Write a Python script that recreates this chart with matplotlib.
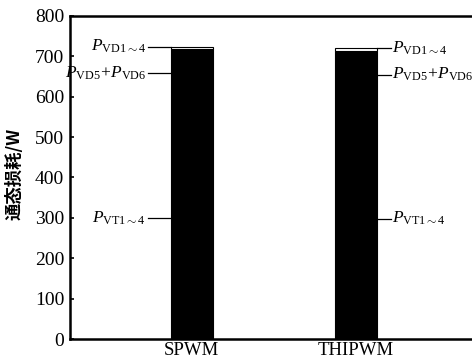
import numpy as np
import matplotlib.pyplot as plt

plt.rcParams['font.family'] = ['Liberation Serif', 'DejaVu Serif']
plt.rcParams['mathtext.fontset'] = 'custom'
plt.rcParams['mathtext.rm'] = 'Liberation Serif'
plt.rcParams['mathtext.it'] = 'Liberation Serif:italic'

# on-state losses (W) for each modulation scheme, stacked bottom to top
schemes = ['SPWM', 'THIPWM']
p_vt14 = [600, 596]
p_vd56 = [117, 117]
p_vd14 = [7, 7]
labels = [r'$P_{\mathrm{VT1\sim4}}$',
          r'$P_{\mathrm{VD5}}\!+\!P_{\mathrm{VD6}}$',
          r'$P_{\mathrm{VD1\sim4}}$']

fig = plt.figure(figsize=(4.72, 3.6), dpi=100)
ax = fig.add_axes([0.148, 0.058, 0.852, 0.898])

x = np.arange(len(schemes))
w = 0.255
b1 = np.array(p_vt14)
b2 = b1 + np.array(p_vd56)
ax.bar(x, p_vt14, w, color='black', edgecolor='black', lw=0.8)
ax.bar(x, p_vd56, w, bottom=b1, color='black', edgecolor='black', lw=0.8)
ax.bar(x, p_vd14, w, bottom=b2, color='white', edgecolor='black', lw=0.8)

# leader lines + labels, left side for the first bar, right side for the second
for i in range(len(schemes)):
    ys = [p_vt14[i] / 2, b1[i] + p_vd56[i] / 2, b2[i] + p_vd14[i]]
    for y, lab in zip(ys, labels):
        if i == 0:
            x0 = x[i] - w / 2
            x1 = x0 - 0.14
            ax.plot([x1, x0], [y, y], color='black', lw=0.9)
            ax.text(x1 - 0.01, y, lab, ha='right', va='center', fontsize=12.5)
        else:
            x0 = x[i] + w / 2
            x1 = x0 + 0.085
            ax.plot([x0, x1], [y, y], color='black', lw=0.9)
            ax.text(x1 + 0.005, y, lab, ha='left', va='center', fontsize=12.5,
                    clip_on=False)

ax.set_xlim(-0.743, 1.708)
ax.set_ylim(0, 800)
ax.set_yticks(range(0, 801, 100))
ax.set_xticks(x)
ax.set_xticklabels(schemes, fontsize=13.5)
ax.tick_params(axis='y', direction='in', length=3, width=1.2, labelsize=14, pad=4)
ax.tick_params(axis='x', length=0, pad=2)
ax.spines['right'].set_visible(False)
for s in ['left', 'top', 'bottom']:
    ax.spines[s].set_linewidth(1.8)

ax.set_ylabel('通态损耗/W', family=['Noto Sans CJK SC', 'DejaVu Sans'],
              fontsize=12.5, fontweight='bold')
ax.yaxis.set_label_coords(-0.115, 0.51)

fig.savefig('out.png', dpi=100)
